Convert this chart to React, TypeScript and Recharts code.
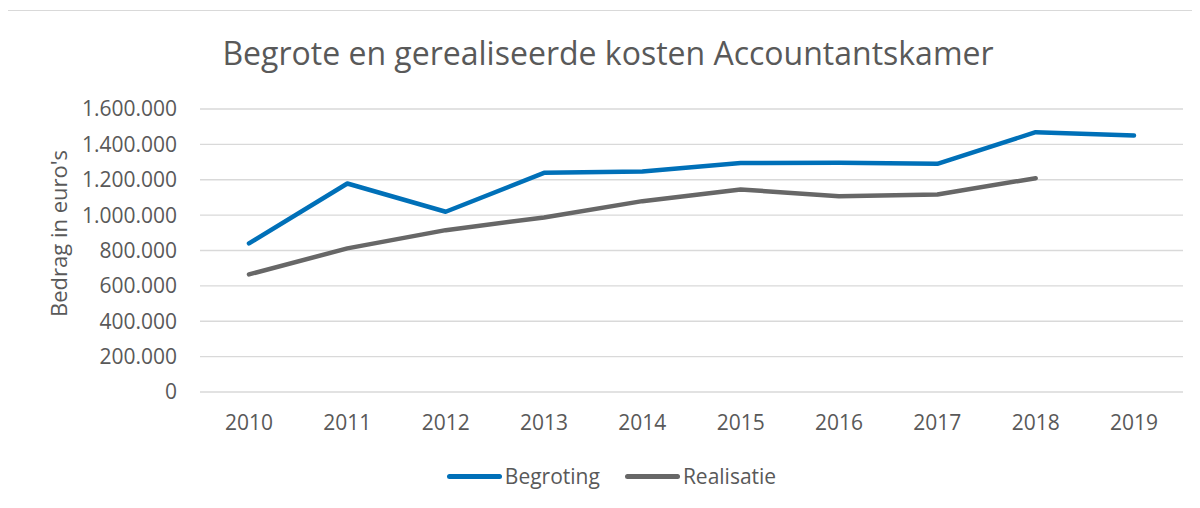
import { LineChart, Line, XAxis, YAxis, CartesianGrid, Legend } from 'recharts';

const YEARS = ['2010', '2011', '2012', '2013', '2014', '2015', '2016', '2017', '2018', '2019'];
const BEGROTING = [840000, 1179000, 1019000, 1239000, 1247000, 1295000, 1296000, 1290000, 1469000, 1450000];
const REALISATIE = [665000, 812000, 915000, 987000, 1079000, 1145000, 1107000, 1117000, 1209000, null];
const Y_TICKS = [0, 200000, 400000, 600000, 800000, 1000000, 1200000, 1400000, 1600000];

const TITLE = 'Begrote en gerealiseerde kosten Accountantskamer';
const Y_LABEL = "Bedrag in euro's";

const FONT = '"Open Sans", "Noto Sans", sans-serif';
const TEXT = '#595959';
const BLUE = '#0070b8';
const GREY = '#676767';

const data = YEARS.map((y, i) => ({
  year: y,
  begroting: BEGROTING[i],
  realisatie: REALISATIE[i],
}));

// 1600000 -> 1.600.000
const fmt = (v: number) => String(v).replace(/\B(?=(\d{3})+(?!\d))/g, '.');

function YLabel({ viewBox }: any) {
  const cx = viewBox.x + 58;
  const cy = viewBox.y + viewBox.height / 2 - 17;
  return (
    <text x={cx} y={cy} transform={`rotate(-90 ${cx} ${cy})`} textAnchor="middle"
          dominantBaseline="central" fill={TEXT} fontSize={22} fontFamily={FONT}>
      {Y_LABEL}
    </text>
  );
}

function LegendBox({ payload }: any) {
  return (
    <div style={{ height: 56, display: 'flex', alignItems: 'center', justifyContent: 'center',
                  paddingBottom: 8, paddingLeft: 40, boxSizing: 'border-box' }}>
      {(payload || []).map((p: any, i: number) => (
        <div key={p.value} style={{ display: 'flex', alignItems: 'center', marginLeft: i ? 25 : 0 }}>
          <span style={{ width: 55, height: 5, borderRadius: 3, background: p.color, marginRight: 3 }} />
          <span style={{ fontFamily: FONT, fontSize: 21, color: TEXT }}>{p.value}</span>
        </div>
      ))}
    </div>
  );
}

export default function App() {
  return (
    <div style={{ position: 'relative', margin: -8, width: 1200, height: 508, overflow: 'hidden', background: '#fff' }}>
      <div style={{ position: 'absolute', left: 6, top: 10, width: 1188, height: 520,
                    border: '1px solid #d9d9d9' }} />
      <div style={{ position: 'absolute', top: 37, left: 0, width: 1216, textAlign: 'center',
                    fontFamily: FONT, fontSize: 32, lineHeight: '32px', color: TEXT }}>
        {TITLE}
      </div>
      <div style={{ position: 'absolute', left: 0, top: 0 }}>
        <LineChart width={1200} height={508} data={data}
                   margin={{ top: 109, right: 17, left: 0, bottom: 0 }}>
          <CartesianGrid vertical={false} stroke="#d9d9d9" strokeWidth={1.3} />
          <XAxis dataKey="year" axisLine={false} tickLine={false} height={60} tickMargin={17}
                 padding={{ left: 49, right: 49 }}
                 tick={{ fill: TEXT, fontSize: 21, fontFamily: FONT }} />
          <YAxis width={200} domain={[0, 1600000]} ticks={Y_TICKS} interval={0}
                 axisLine={false} tickLine={false} tickMargin={17} tickFormatter={fmt}
                 tick={{ fill: TEXT, fontSize: 21, fontFamily: FONT }}
                 label={<YLabel />} />
          <Legend verticalAlign="bottom" height={56} content={<LegendBox />} />
          <Line name="Begroting" dataKey="begroting" stroke={BLUE} strokeWidth={4.5}
                dot={false} activeDot={false} strokeLinecap="round" strokeLinejoin="round"
                isAnimationActive={false} />
          <Line name="Realisatie" dataKey="realisatie" stroke={GREY} strokeWidth={4.5}
                dot={false} activeDot={false} strokeLinecap="round" strokeLinejoin="round"
                isAnimationActive={false} />
        </LineChart>
      </div>
    </div>
  );
}
